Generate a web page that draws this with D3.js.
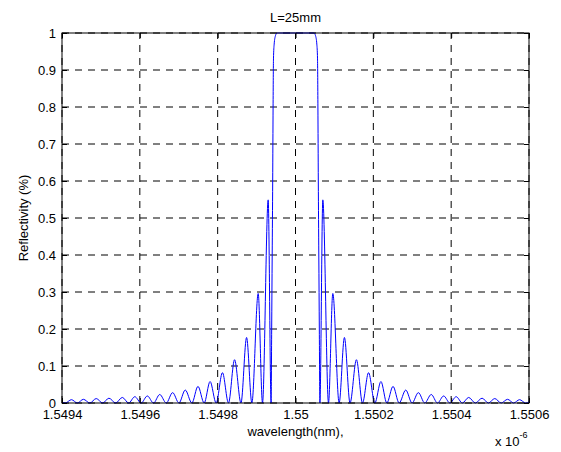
<!DOCTYPE html>
<html>
<head>
<meta charset="utf-8">
<script src="https://cdn.jsdelivr.net/npm/d3@7/dist/d3.min.js"></script>
<style>
  body { margin: 0; background: #fff; }
  text { font-family: Arial, "Liberation Sans", sans-serif; }
</style>
</head>
<body>
<svg id="reflect" width="561" height="452"></svg>
<script>
// wavelength in units of 1e-6 (shown as "x 10^-6" on the axis)
var wavelength = [
  1.5494000, 1.5494087, 1.5494242, 1.5494396, 1.5494550, 1.5494715, 1.5494879, 1.5495044,
  1.5495206, 1.5495378, 1.5495550, 1.5495712, 1.5495871, 1.5496033, 1.5496193, 1.5496352,
  1.5496512, 1.5496679, 1.5496843, 1.5497005, 1.5497167, 1.5497337, 1.5497494, 1.5497653,
  1.5497805, 1.5497961, 1.5498123, 1.5498278, 1.5498434, 1.5498599, 1.5498743, 1.5498879,
  1.5499041, 1.5499152, 1.5499298, 1.5499373, 1.5499388, 1.5499401, 1.5499414, 1.5499424,
  1.5499434, 1.5499452, 1.5499486, 1.5499524, 1.5500000,
  1.5500476, 1.5500514, 1.5500548, 1.5500566, 1.5500576, 1.5500586, 1.5500599, 1.5500612,
  1.5500627, 1.5500702, 1.5500848, 1.5500959, 1.5501121, 1.5501257, 1.5501401, 1.5501566,
  1.5501722, 1.5501877, 1.5502039, 1.5502195, 1.5502347, 1.5502506, 1.5502663, 1.5502833,
  1.5502995, 1.5503157, 1.5503321, 1.5503488, 1.5503648, 1.5503807, 1.5503967, 1.5504129,
  1.5504288, 1.5504450, 1.5504622, 1.5504794, 1.5504956, 1.5505121, 1.5505285, 1.5505450,
  1.5505604, 1.5505758, 1.5505913, 1.5506000
]
var reflectivity = [
  0.003, 0, 0.009, 0, 0.010, 0, 0.012, 0,
  0.013, 0, 0.015, 0, 0.017, 0, 0.019, 0,
  0.023, 0, 0.028, 0, 0.035, 0, 0.045, 0,
  0.058, 0, 0.082, 0, 0.117, 0, 0.177, 0,
  0.296, 0, 0.549, 0, 0.2, 0.4, 0.6, 0.8,
  0.93, 0.97, 0.993, 1.0, 1.0,
  1.0, 0.993, 0.97, 0.93, 0.8, 0.6, 0.4, 0.2,
  0, 0.549, 0, 0.296, 0, 0.177, 0, 0.117,
  0, 0.082, 0, 0.058, 0, 0.045, 0, 0.035,
  0, 0.028, 0, 0.023, 0, 0.019, 0, 0.017,
  0, 0.015, 0, 0.013, 0, 0.012, 0, 0.010,
  0, 0.009, 0, 0.003
]

var xTicks = [1.5494, 1.5496, 1.5498, 1.55, 1.5502, 1.5504, 1.5506]
var xTickLabels = ['1.5494', '1.5496', '1.5498', '1.55', '1.5502', '1.5504', '1.5506']
var yTicks = [0, 0.1, 0.2, 0.3, 0.4, 0.5, 0.6, 0.7, 0.8, 0.9, 1]
var yTickLabels = ['0', '0.1', '0.2', '0.3', '0.4', '0.5', '0.6', '0.7', '0.8', '0.9', '1']

function drawReflectivity () {
  var svg = d3.select('#reflect')
  var left = 62, right = 529, top = 33, bottom = 403

  var x = d3.scaleLinear()
      .domain([1.5494, 1.5506])
      .range([left, right])

  var y = d3.scaleLinear()
      .domain([0, 1])
      .range([bottom, top])

  // dashed grid
  var grid = svg.append('g')
      .attr('fill', 'none')
      .attr('stroke', '#000')
      .attr('stroke-width', 1)
      .attr('stroke-dasharray', '7,6')

  grid.selectAll('line.vx')
      .data(xTicks)
      .enter().append('line')
      .attr('class', 'vx')
      .attr('x1', function (d) { return x(d) })
      .attr('x2', function (d) { return x(d) })
      .attr('y1', bottom)
      .attr('y2', top)

  grid.selectAll('line.hy')
      .data(yTicks)
      .enter().append('line')
      .attr('class', 'hy')
      .attr('x1', left)
      .attr('x2', right)
      .attr('y1', function (d) { return y(d) })
      .attr('y2', function (d) { return y(d) })

  var line = d3.line()
      .x(function (d) { return x(d[0]) })
      .y(function (d) { return y(d[1]) })
      .curve(d3.curveMonotoneX)

  svg.append('path')
      .datum(d3.zip(wavelength, reflectivity))
      .attr('fill', 'none')
      .attr('stroke', '#0000ff')
      .attr('stroke-width', 1)
      .attr('d', line)

  // axes, ticks pointing inward like matlab
  var xAxis = d3.axisBottom(x)
      .tickValues(xTicks)
      .tickFormat(function (d, i) { return xTickLabels[i] })
      .tickSizeInner(-5)
      .tickSizeOuter(0)
      .tickPadding(7)

  var yAxis = d3.axisLeft(y)
      .tickValues(yTicks)
      .tickFormat(function (d, i) { return yTickLabels[i] })
      .tickSizeInner(-5)
      .tickSizeOuter(0)
      .tickPadding(6)

  var gx = svg.append('g')
      .attr('transform', 'translate(0,' + bottom + ')')
      .call(xAxis)
  var gy = svg.append('g')
      .attr('transform', 'translate(' + left + ',0)')
      .call(yAxis)

  // ticks on top and right side too
  svg.append('g')
      .attr('transform', 'translate(0,' + top + ')')
      .call(d3.axisTop(x).tickValues(xTicks).tickFormat('').tickSizeInner(-5).tickSizeOuter(0))
  svg.append('g')
      .attr('transform', 'translate(' + right + ',0)')
      .call(d3.axisRight(y).tickValues(yTicks).tickFormat('').tickSizeInner(-5).tickSizeOuter(0))

  svg.selectAll('.domain').remove()
  svg.selectAll('.tick line').attr('stroke', '#000')
  svg.selectAll('.tick text')
      .attr('fill', '#000')
      .style('font-size', '13px')

  svg.append('rect')
      .attr('x', left)
      .attr('y', top)
      .attr('width', right - left)
      .attr('height', bottom - top)
      .attr('fill', 'none')
      .attr('stroke', '#000')
      .attr('stroke-width', 1)

  svg.append('text')
      .attr('x', (left + right) / 2)
      .attr('y', 22)
      .attr('text-anchor', 'middle')
      .style('font-size', '13px')
      .text('L=25mm')

  svg.append('text')
      .attr('x', (left + right) / 2)
      .attr('y', 436)
      .attr('text-anchor', 'middle')
      .style('font-size', '13px')
      .text('wavelength(nm),')

  svg.append('text')
      .attr('transform', 'translate(28,' + y(0.5) + ') rotate(-90)')
      .attr('text-anchor', 'middle')
      .style('font-size', '13px')
      .text('Reflectivity (%)')

  var expo = svg.append('text')
      .attr('x', 495)
      .attr('y', 446)
      .style('font-size', '13px')
  expo.append('tspan').text('x 10')
  expo.append('tspan')
      .attr('dy', -8)
      .style('font-size', '9px')
      .text('-6')
}

drawReflectivity()
</script>
</body>
</html>
